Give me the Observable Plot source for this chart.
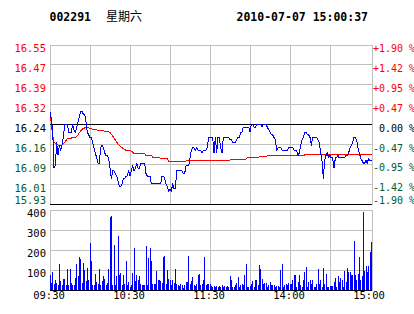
<!DOCTYPE html>
<html><head><meta charset="utf-8">
<script src="https://cdn.jsdelivr.net/npm/d3@7"></script>
<script src="https://cdn.jsdelivr.net/npm/@observablehq/plot@0.6"></script>
<style>
html,body{margin:0;padding:0;background:#fff;}
#wrap{position:relative;width:414px;height:314px;overflow:hidden;background:#fff;}
#wrap > svg{position:absolute;left:0;}
</style></head><body><div id="wrap"></div>
<script>
// ---------- data ----------
const stockCode = "002291";
const weekday = "星期六";
const timestamp = "2010-07-07 15:00:37";
const prevClose = 16.24;
const pctTicks = [1.9, 1.425, 0.95, 0.475, 0, -0.475, -0.95, -1.425, -1.9];
const priceTickLabels = ["16.55","16.47","16.39","16.32","16.24","16.16","16.09","16.01","15.93"];
const pctTickLabels = ["+1.90 %","+1.42 %","+0.95 %","+0.47 %","\u00a00.00 %","-0.47 %","-0.95 %","-1.42 %","-1.90 %"];
const volTicks = [100, 200, 300, 400];
const timeTicks = [0, 60, 120, 180, 240];
const timeTickLabels = ["09:30","10:30","11:30","14:00","15:00"];
const gridMinutes = [30, 60, 90, 120, 150, 180, 210];

// last price per minute (index = trading minute, 09:30 = 0, 13:00 = 121)
const price = [
16.29,16.26,16.22,16.07,16.08,16.17,16.12,16.16,16.14,16.16,
16.19,16.24,16.24,16.24,16.21,16.21,16.21,16.24,16.22,16.21,
16.23,16.25,16.27,16.29,16.29,16.28,16.28,16.25,16.21,16.20,
16.19,16.19,16.17,16.15,16.13,16.11,16.09,16.09,16.15,16.16,
16.15,16.13,16.12,16.12,16.11,16.07,16.03,16.06,16.06,16.05,
16.04,16.02,16.00,16.00,16.01,16.03,16.03,16.04,16.04,16.06,
16.04,16.06,16.08,16.06,16.07,16.09,16.07,16.07,16.09,16.09,
16.09,16.09,16.05,16.04,16.04,16.04,16.01,16.01,16.01,16.01,
16.01,16.01,16.01,16.01,16.04,16.04,16.03,16.01,16.00,15.98,
15.99,15.98,16.01,15.99,15.99,16.06,16.06,16.06,16.06,16.06,
16.05,16.05,16.08,16.08,16.08,16.11,16.14,16.15,16.15,16.14,
16.15,16.14,16.14,16.14,16.13,16.14,16.14,16.14,16.15,16.19,
16.19,16.19,16.19,16.13,16.19,16.13,16.19,16.19,16.15,16.13,
16.19,16.19,16.19,16.19,16.19,16.18,16.18,16.17,16.17,16.17,
16.18,16.19,16.19,16.21,16.21,16.23,16.23,16.23,16.23,16.23,
16.21,16.24,16.24,16.23,16.23,16.24,16.24,16.24,16.24,16.23,
16.24,16.24,16.24,16.23,16.22,16.21,16.20,16.20,16.19,16.18,
16.14,16.15,16.15,16.15,16.14,16.14,16.14,16.14,16.14,16.15,
16.15,16.15,16.15,16.14,16.14,16.14,16.12,16.13,16.16,16.18,
16.19,16.21,16.21,16.20,16.20,16.19,16.16,16.19,16.19,16.19,
16.19,16.18,16.17,16.13,16.10,16.03,16.10,16.12,16.13,16.11,
16.12,16.11,16.11,16.07,16.11,16.11,16.12,16.11,16.11,16.11,
16.11,16.11,16.12,16.12,16.13,16.15,16.16,16.17,16.19,16.19,
16.18,16.15,16.13,16.11,16.10,16.09,16.09,16.10,16.09,16.11,
16.10,16.10
];

// average price line, read at turning points
const avgMinutes = [0,1,2,3,6,9,11,13,19,21,23,25,28,30,33,40,45,47,49,51,54,57,61,63,71,72,76,77,82,83,88,89,102,104,135,136,147,148,156,157,162,163,190,191,241];
const avgPrices  = [16.29,16.24,16.20,16.17,16.16,16.16,16.17,16.185,16.19,16.20,16.215,16.225,16.23,16.225,16.22,16.215,16.21,16.195,16.18,16.165,16.15,16.14,16.137,16.128,16.127,16.12,16.12,16.113,16.113,16.107,16.107,16.098,16.098,16.102,16.102,16.106,16.106,16.111,16.111,16.115,16.115,16.118,16.118,16.122,16.122];

// volume per minute (lots / 100)
const volume = [
75,33,90,26,50,35,25,128,43,25,
55,52,22,105,22,105,33,22,22,58,
128,70,162,155,35,133,100,42,110,48,
235,145,25,22,78,38,30,105,25,42,
70,55,25,35,105,365,370,25,225,25,
68,270,75,85,25,72,30,145,25,38,
15,25,85,207,42,72,48,68,30,22,
22,22,218,22,160,207,145,30,30,30,
95,48,48,42,35,162,167,30,100,55,
48,22,48,33,103,30,22,18,30,22,
10,22,38,38,167,30,42,65,22,18,
28,75,77,25,30,48,162,25,28,28,
28,
20,13,20,13,20,13,20,13,23,13,
20,13,20,13,70,50,13,13,23,33,
65,13,23,30,23,75,128,13,13,20,
30,45,13,50,50,23,123,103,53,27,
33,33,13,23,40,23,23,23,13,20,
20,13,100,128,13,23,27,23,33,27,
27,50,73,73,13,37,73,23,15,50,
90,113,13,40,47,27,47,13,13,27,
103,27,50,13,110,27,80,13,13,20,
20,20,40,60,13,67,40,60,47,13,
93,40,107,90,87,73,73,245,73,50,
80,162,50,70,390,93,117,87,120,187,
237
];

// ---------- style ----------
const RED = "#ff0000", GREEN = "#006030", BLUE = "#0000ff", GRID = "#c0c0c0", BLACK = "#000000";
const FONT = "DejaVu Sans Mono";

const priceData = price.map((p, i) => ({m: i, p}));
const avgData = avgMinutes.map((m, i) => ({m, p: avgPrices[i]}));
const volData = volume.map((v, i) => ({m: i, v}));
const tickRows = pctTicks.map((pct, i) => ({
  y: prevClose * (1 + pct / 100),
  left: priceTickLabels[i],
  right: pctTickLabels[i],
  color: pct > 0 ? RED : pct < 0 ? GREEN : BLACK
}));
const xDomain = [0, 241.5];
const yDomain = [tickRows[tickRows.length - 1].y, tickRows[0].y];

const wrap = document.getElementById("wrap");

// ---------- price chart ----------
const p1 = Plot.plot({
  width: 414, height: 206,
  marginLeft: 49.5, marginRight: 42.5, marginTop: 44.5, marginBottom: 2.5,
  x: {domain: xDomain, axis: null},
  y: {domain: yDomain, axis: null},
  color: {type: "identity"},
  style: {fontFamily: FONT, fontSize: "10.5px", background: "transparent", overflow: "visible"},
  marks: [
    Plot.ruleY(tickRows.slice(1, 8).filter(d => d.color !== BLACK), {y: "y", stroke: GRID, shapeRendering: "crispEdges"}),
    Plot.ruleX(gridMinutes, {stroke: GRID, shapeRendering: "crispEdges"}),
    Plot.frame({stroke: GRID, shapeRendering: "crispEdges"}),
    Plot.ruleY([prevClose, yDomain[0]], {stroke: BLACK, shapeRendering: "crispEdges"}),
    Plot.line(avgData, {x: "m", y: "p", stroke: RED, strokeWidth: 1, shapeRendering: "crispEdges"}),
    Plot.line(priceData, {x: "m", y: "p", stroke: BLUE, strokeWidth: 1, shapeRendering: "crispEdges"}),
    Plot.text(tickRows.slice(0, 8), {y: "y", text: "left", fill: "color", frameAnchor: "left", textAnchor: "end", dx: -4, dy: 4}),
    Plot.text(tickRows.slice(8), {y: "y", text: "right" === "x" ? "" : "left", fill: "color", frameAnchor: "left", textAnchor: "end", dx: -4, dy: -3.5}),
    Plot.text(tickRows.slice(0, 8), {y: "y", text: "right", fill: "color", frameAnchor: "right", textAnchor: "start", dx: 1, dy: 4, fontSize: 10}),
    Plot.text(tickRows.slice(8), {y: "y", text: "right", fill: "color", frameAnchor: "right", textAnchor: "start", dx: 1, dy: -3.5, fontSize: 10})
  ]
});
p1.style.top = "0px";
wrap.appendChild(p1);

// ---------- volume chart ----------
const p2 = Plot.plot({
  width: 414, height: 108,
  marginLeft: 49.5, marginRight: 42.5, marginTop: 3.5, marginBottom: 24.5,
  x: {domain: xDomain, axis: null},
  y: {domain: [0, 400], axis: null},
  style: {fontFamily: FONT, fontSize: "10.5px", background: "transparent", overflow: "visible"},
  marks: [
    Plot.ruleY(volTicks.slice(0, 3), {stroke: GRID, shapeRendering: "crispEdges"}),
    Plot.ruleX(gridMinutes, {stroke: GRID, shapeRendering: "crispEdges"}),
    Plot.frame({stroke: GRID, shapeRendering: "crispEdges"}),
    Plot.ruleX(volData, {x: "m", y1: 0, y2: "v", stroke: BLUE, strokeWidth: 1, shapeRendering: "crispEdges"}),
    Plot.ruleY([0], {stroke: BLACK, shapeRendering: "crispEdges"}),
    Plot.text(volTicks, {y: d => d, text: d => String(d), fill: BLACK, frameAnchor: "left", textAnchor: "end", dx: -4, dy: 4}),
    Plot.text(timeTicks, {x: d => d, text: (d, i) => timeTickLabels[i], fill: BLACK, frameAnchor: "bottom", dy: 9, dx: -1})
  ]
});
p2.style.top = "206px";
wrap.appendChild(p2);

// ---------- header ----------
const NS = "http://www.w3.org/2000/svg";
const head = document.createElementNS(NS, "svg");
head.setAttribute("width", 414);
head.setAttribute("height", 30);
head.style.top = "0px";
const items = [
  {t: stockCode, x: 49.5, fam: FONT, size: "11.5px", w: "bold"},
  {t: weekday, x: 106, fam: "Noto Sans CJK SC", size: "12px", w: "normal"},
  {t: timestamp, x: 236.5, fam: FONT, size: "11.5px", w: "bold"}
];
for (const it of items) {
  const el = document.createElementNS(NS, "text");
  el.setAttribute("x", it.x);
  el.setAttribute("y", 20.8);
  el.setAttribute("font-family", it.fam);
  el.setAttribute("font-size", it.size);
  el.setAttribute("font-weight", it.w);
  el.setAttribute("fill", "#000");
  el.textContent = it.t;
  head.appendChild(el);
}
wrap.appendChild(head);
</script>
</body></html>
